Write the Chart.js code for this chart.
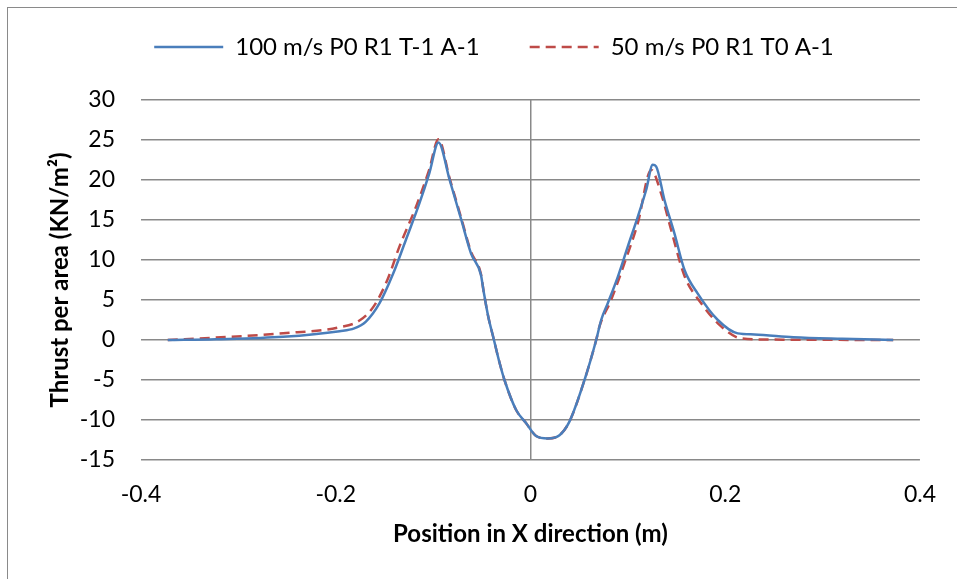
<!DOCTYPE html>
<html>
<head>
<meta charset="utf-8">
<script src="https://cdn.jsdelivr.net/npm/chart.js@4.4.0/dist/chart.umd.min.js"></script>
<style>
  html, body { margin: 0; padding: 0; background: #fff; }
  #wrap { position: relative; width: 957px; height: 579px; overflow: hidden; }
  #frame { position: absolute; left: 7px; top: 7px; width: 1000px; height: 1000px;
           border-left: 1px solid #8a8a8a; border-top: 1px solid #8a8a8a; }
  canvas { position: absolute; left: 0; top: 0; }
</style>
</head>
<body>
<div id="wrap">
  <div id="frame"></div>
  <canvas id="thrustChart" width="957" height="579"></canvas>
</div>
<script>
// series labels
const seriesNames = ['100 m/s P0 R1 T-1 A-1', '50 m/s P0 R1 T0 A-1'];

// 100 m/s run (solid blue)
const xFast = [-0.3725, -0.323, -0.254, -0.196, -0.181, -0.169, -0.155, -0.141, -0.128, -0.114,
  -0.104, -0.0945, -0.083, -0.071, -0.061, -0.051, -0.048, -0.0435, -0.0375, -0.0325,
  -0.0267, -0.0147, -0.0044, 0.0058, 0.0178, 0.0298, 0.04, 0.0555, 0.0675, 0.0726,
  0.0794, 0.0897, 0.1, 0.1102, 0.1188, 0.1256, 0.129, 0.1376, 0.1479, 0.1582,
  0.1718, 0.1924, 0.2129, 0.23, 0.27, 0.32, 0.3725];
const yFast = [0, 0.1, 0.4, 1.1, 1.45, 2.3, 4.6, 8.3, 12.5, 17.1,
  20.8, 24.7, 20, 15, 10.8, 8.2, 6, 3, 0, -2.5,
  -5, -8.75, -10.4, -12, -12.3, -11.9, -10.2, -5, 0, 2.5,
  4.6, 7.9, 11.7, 15.4, 18.75, 21.9, 21.7, 17.5, 13.3, 8.75,
  5.8, 2.5, 0.83, 0.7, 0.35, 0.15, 0];

// 50 m/s run (dashed red)
const xSlow = [-0.3725, -0.323, -0.254, -0.196, -0.176, -0.161, -0.147, -0.1345, -0.1174, -0.104,
  -0.0945, -0.083, -0.071, -0.061, -0.051, -0.048, -0.0435, -0.0375, -0.0325, -0.0267,
  -0.0147, -0.0044, 0.0058, 0.0178, 0.0298, 0.04, 0.0555, 0.0675, 0.0709, 0.0828,
  0.0965, 0.1102, 0.124, 0.1342, 0.1445, 0.1582, 0.1753, 0.1958, 0.2164, 0.25, 0.3725];
const ySlow = [0, 0.3, 0.84, 1.6, 2.4, 4.2, 7.5, 11.7, 16.7, 21.3,
  25.1, 20.2, 15.2, 11, 8.3, 6, 3, 0, -2.5, -5,
  -8.75, -10.4, -12, -12.3, -11.9, -10.2, -5, 0, 1.7, 5,
  9.6, 14.6, 21.25, 18.3, 13.75, 8, 4.6, 1.7, 0.2, 0.05, 0];

const toPoints = (xs, ys) => xs.map((x, i) => ({ x: x, y: ys[i] }));

const gridGray = '#898989';
const tickFont = { family: 'Lato', size: 23 };
const legendFont = { family: 'Lato', size: 24 };
const titleFont = { family: 'Lato', size: 24, weight: 'bold' };

// keep legend block a fixed height so the plot starts where the original does
const legendHeight = {
  id: 'legendHeight',
  afterInit(chart) {
    const fit = chart.legend.fit;
    chart.legend.fit = function () {
      fit.call(this);
      this.height = 115;
    };
  }
};

const ctx = document.getElementById('thrustChart').getContext('2d');
new Chart(ctx, {
  type: 'scatter',
  data: {
    datasets: [{
      label: seriesNames[0],
      data: toPoints(xFast, yFast),
      showLine: true,
      borderColor: '#4a7ebb',
      backgroundColor: '#4a7ebb',
      borderWidth: 2.5,
      pointRadius: 0,
      cubicInterpolationMode: 'monotone'
    }, {
      label: seriesNames[1],
      data: toPoints(xSlow, ySlow),
      showLine: true,
      borderColor: '#be4b48',
      backgroundColor: '#be4b48',
      borderWidth: 2.5,
      borderDash: [10, 6],
      pointRadius: 0,
      cubicInterpolationMode: 'monotone'
    }]
  },
  options: {
    responsive: false,
    animation: false,
    layout: { padding: { left: 67, right: 36, top: -15, bottom: 0 } },
    plugins: {
      legend: {
        position: 'top',
        labels: {
          usePointStyle: true,
          pointStyle: 'line',
          pointStyleWidth: 69,
          padding: 50,
          color: '#000',
          font: legendFont,
          generateLabels(chart) {
            const items = Chart.defaults.plugins.legend.labels.generateLabels(chart);
            items.forEach(it => {
              const ds = chart.data.datasets[it.datasetIndex];
              it.lineDash = ds.borderDash || [];
              it.lineWidth = ds.borderWidth;
              it.strokeStyle = ds.borderColor;
            });
            return items;
          }
        }
      },
      tooltip: { enabled: false }
    },
    scales: {
      x: {
        type: 'linear',
        min: -0.4,
        max: 0.4,
        ticks: {
          stepSize: 0.2,
          color: '#000',
          font: tickFont,
          padding: 21,
          callback: v => Number(v.toFixed(1)).toString()
        },
        grid: {
          color: c => (c.tick && Math.abs(c.tick.value) < 1e-9) ? gridGray : 'rgba(0,0,0,0)',
          lineWidth: 1.5,
          drawTicks: false
        },
        border: { display: false },
        title: {
          display: true,
          text: 'Position in X direction (m)',
          color: '#000',
          font: titleFont,
          padding: { top: 0, bottom: 30.6 }
        },
        afterFit: s => { s.height = 119; }
      },
      y: {
        min: -15,
        max: 30,
        ticks: { stepSize: 5, color: '#000', font: tickFont, padding: 26 },
        grid: { color: gridGray, lineWidth: 1.5, drawTicks: false },
        border: { display: false },
        title: {
          display: true,
          text: 'Thrust per area (KN/m²)',
          color: '#000',
          font: titleFont,
          padding: { top: -21.4, bottom: 0 }
        },
        afterFit: s => { s.width = 74; }
      }
    }
  },
  plugins: [legendHeight]
});
</script>
</body>
</html>
